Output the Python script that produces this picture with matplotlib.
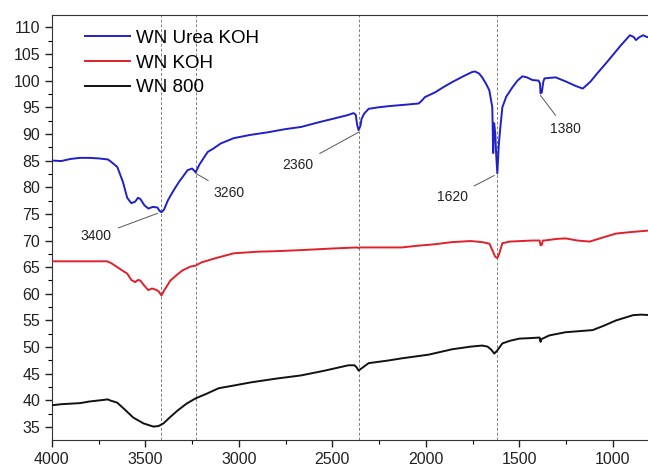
import matplotlib
matplotlib.use("Agg")
import matplotlib.pyplot as plt
from matplotlib.ticker import MultipleLocator

plt.rcParams["font.family"] = ["Liberation Sans", "DejaVu Sans"]

# wavenumber (cm-1) / transmittance
urea_koh_x = [4000, 3950, 3900, 3850, 3800, 3750, 3700, 3688, 3650, 3620, 3597, 3575, 3554, 3540,
              3527, 3505, 3484, 3460, 3436, 3425, 3414, 3400, 3380, 3349, 3320, 3301, 3274, 3250,
              3231, 3210, 3167, 3134, 3097, 3027, 2940, 2844, 2750, 2667, 2570, 2489, 2420, 2387,
              2375, 2368, 2360, 2350, 2344, 2330, 2306, 2250, 2199, 2100, 2038, 2020, 2005, 1950,
              1900, 1860, 1800, 1753, 1737, 1715, 1699, 1680, 1661, 1645, 1640, 1635, 1629, 1624,
              1618, 1610, 1602, 1591, 1570, 1538, 1510, 1484, 1460, 1430, 1398, 1390, 1387, 1380,
              1372, 1366, 1340, 1306, 1250, 1200, 1161, 1120, 1080, 1038, 1000, 960, 909, 890,
              876, 860, 839, 820, 796]
urea_koh_y = [85.0, 84.9, 85.3, 85.5, 85.5, 85.4, 85.2, 84.9, 83.8, 81.0, 78.0, 77.0, 77.3, 78.0,
              77.8, 76.6, 76.0, 76.3, 76.2, 75.6, 75.3, 75.8, 77.5, 79.4, 81.0, 81.9, 83.2, 83.5,
              82.8, 84.3, 86.6, 87.3, 88.2, 89.2, 89.8, 90.3, 90.9, 91.3, 92.2, 92.9, 93.5, 93.9,
              93.6, 91.8, 90.7, 91.5, 92.8, 93.8, 94.7, 95.0, 95.2, 95.5, 95.7, 96.3, 96.9, 97.8,
              98.9, 99.7, 100.8, 101.6, 101.7, 101.3, 100.6, 99.5, 98.2, 95.0, 86.4, 92.0, 90.1, 86.0,
              82.6, 88.0, 91.2, 95.0, 97.0, 98.7, 100.0, 100.8, 100.6, 100.1, 100.0, 99.5, 97.6, 97.8,
              99.8, 100.4, 100.5, 100.6, 99.8, 99.0, 98.5, 99.8, 101.5, 103.2, 104.8, 106.5, 108.5, 108.2,
              107.6, 108.1, 108.5, 108.2, 108.0]

koh_x = [4000, 3900, 3800, 3704, 3680, 3650, 3620, 3597, 3575, 3554, 3540, 3527, 3505, 3484, 3465,
         3446, 3430, 3414, 3400, 3366, 3330, 3301, 3260, 3231, 3200, 3113, 3027, 2900, 2800, 2667,
         2500, 2370, 2360, 2350, 2250, 2129, 2050, 1952, 1860, 1760, 1699, 1660, 1645, 1630, 1618,
         1608, 1591, 1550, 1430, 1392, 1387, 1380, 1375, 1366, 1300, 1253, 1190, 1124, 1060, 984,
         900, 796]
koh_y = [66.1, 66.1, 66.1, 66.1, 65.7, 65.0, 64.3, 63.8, 62.6, 62.2, 62.6, 62.5, 61.5, 60.7, 61.0,
         60.8, 60.5, 59.7, 60.6, 62.5, 63.6, 64.4, 65.1, 65.3, 65.9, 66.8, 67.6, 67.9, 68.0, 68.2,
         68.5, 68.7, 68.6, 68.7, 68.7, 68.7, 69.0, 69.3, 69.7, 69.9, 69.7, 69.4, 68.2, 67.0, 66.7,
         67.5, 69.5, 69.8, 70.0, 70.0, 69.1, 69.2, 70.0, 70.0, 70.3, 70.4, 70.0, 69.8, 70.5, 71.3,
         71.6, 71.9]

wn800_x = [4000, 3950, 3900, 3849, 3800, 3750, 3700, 3688, 3651, 3610, 3565, 3510, 3457, 3430, 3403,
           3370, 3328, 3280, 3231, 3170, 3108, 3027, 2935, 2800, 2667, 2540, 2414, 2382, 2370, 2360,
           2345, 2306, 2200, 2129, 1984, 1860, 1760, 1699, 1670, 1650, 1634, 1620, 1591, 1550, 1500,
           1440, 1392, 1387, 1382, 1340, 1253, 1180, 1108, 1050, 984, 892, 850, 796]
wn800_y = [39.1, 39.3, 39.4, 39.5, 39.8, 40.0, 40.2, 40.0, 39.6, 38.3, 36.8, 35.7, 35.1, 35.2, 35.7,
           36.8, 38.1, 39.4, 40.4, 41.3, 42.3, 42.8, 43.4, 44.1, 44.7, 45.6, 46.6, 46.6, 46.2, 45.6,
           46.0, 47.0, 47.5, 47.9, 48.6, 49.6, 50.1, 50.3, 50.1, 49.5, 48.8, 49.3, 50.7, 51.2, 51.6,
           51.7, 51.8, 51.0, 51.5, 52.2, 52.8, 53.0, 53.2, 54.0, 55.0, 56.0, 56.1, 56.0]

marker_lines = [3414, 3231, 2360, 1618]
peak_labels = ["3400", "3260", "2360", "1620", "1380"]
peak_xy = [(3435, 75.1), (3231, 82.6), (2360, 90.3), (1634, 82.2), (1387, 97.2)]
label_xy = [(3763, 70.8), (3054, 79.0), (2683, 84.1), (1860, 78.1), (1253, 91.0)]

fig = plt.figure(figsize=(6.48, 4.68), dpi=100)
ax = fig.add_axes([0.080, 0.060, 0.925, 0.908])

for xv in marker_lines:
    ax.axvline(xv, color="#808080", lw=0.7, ls=(0, (3, 2)), zorder=1)

ax.plot(urea_koh_x, urea_koh_y, color="#2020c8", lw=1.4, label="WN Urea KOH", zorder=3)
ax.plot(koh_x, koh_y, color="#e0202a", lw=1.4, label="WN KOH", zorder=3)
ax.plot(wn800_x, wn800_y, color="#111111", lw=1.4, label="WN 800", zorder=3)

for text, xy, xytext in zip(peak_labels, peak_xy, label_xy):
    ax.annotate(text, xy=xy, xytext=xytext, ha="center", va="center", fontsize=10,
                color="#222222",
                arrowprops=dict(arrowstyle="-", color="#555555", lw=0.7, shrinkA=3, shrinkB=0))

ax.set_xlim(4000, 795)
ax.set_ylim(32.6, 112.3)
ax.xaxis.set_major_locator(MultipleLocator(500))
ax.xaxis.set_minor_locator(MultipleLocator(250))
ax.yaxis.set_major_locator(MultipleLocator(5))
ax.yaxis.set_minor_locator(MultipleLocator(2.5))
ax.tick_params(which="major", direction="out", length=5, width=1, labelsize=11.5, colors="#222222")
ax.tick_params(which="minor", direction="out", length=3, width=0.8)
for sp in ax.spines.values():
    sp.set_color("#333333")

leg = ax.legend(loc="upper left", bbox_to_anchor=(0.043, 0.983), frameon=False, fontsize=13.5,
                handlelength=2.4, handletextpad=0.32, labelspacing=0.41, borderaxespad=0)

fig.savefig("out.png", dpi=100)
